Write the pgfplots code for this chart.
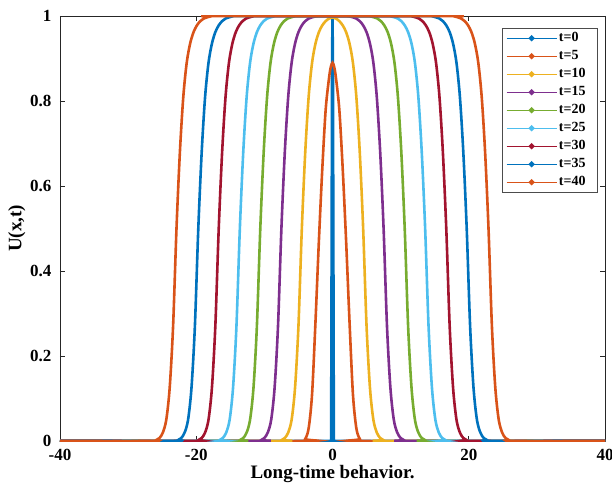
\documentclass[border=0pt]{standalone}
\usepackage{fontspec}
\setmainfont{Liberation Serif}
\usepackage{pgfplots}
\pgfplotsset{compat=1.18}
\definecolor{m1}{rgb}{0,0.447,0.741}
\definecolor{m2}{rgb}{0.850,0.325,0.098}
\definecolor{m3}{rgb}{0.929,0.694,0.125}
\definecolor{m4}{rgb}{0.494,0.184,0.556}
\definecolor{m5}{rgb}{0.466,0.674,0.188}
\definecolor{m6}{rgb}{0.301,0.745,0.933}
\definecolor{m7}{rgb}{0.635,0.078,0.184}
\begin{document}
\begin{tikzpicture}
\begin{axis}[
  name=ax, at={(0,0)}, anchor=south west,
  scale only axis, width=545pt, height=425pt,
  xmin=-40, xmax=40, ymin=0, ymax=1,
  xtick={-40,-20,0,20,40}, ytick={0,0.2,0.4,0.6,0.8,1},
  yticklabels={0,0.2,0.4,0.6,0.8,1},
  /pgf/number format/assume math mode=true,
  tick align=inside, major tick length=5pt,
  tick style={black!85, line width=0.6pt},
  axis line style={black!85, line width=0.8pt},
  tick label style={font=\bfseries\fontsize{17}{17}\selectfont},
  xticklabel style={yshift=-5pt},
  yticklabel style={xshift=-5pt},
  xlabel={Long-time behavior.}, ylabel={U(x,t)},
  label style={font=\bfseries\fontsize{19}{19}\selectfont},
  xlabel style={yshift=3pt},
  ylabel style={yshift=-2pt},
  legend cell align=left,
  legend style={at={(rel axis cs:0.987,0.972)}, anchor=north east,
    font=\bfseries\fontsize{14}{15}\selectfont, draw=black!70, line width=0.6pt,
    inner xsep=4pt, inner ysep=3.5pt, row sep=5pt,
    nodes={inner xsep=2pt, inner ysep=0pt, text height=9.5pt, text depth=3.5pt}},
  legend image code/.code={\draw[#1,line width=0.7pt] (0pt,0pt) -- (50pt,0pt); \fill[#1] (25pt,0pt) circle (1.4pt);},
  every axis plot/.append style={line width=2.6pt},
  clip=true,
]
\addplot[m1] coordinates {(-40,0) (-0.2,0) (-0.06,0.9) (0,1) (0.06,0.9) (0.2,0) (40,0)};
\addlegendentry{t=0\hspace*{6pt}}
\addplot[m2, smooth] coordinates {(-40,0) (-4.5,0) (-4,0.005) (-3.5,0.03) (-3,0.11) (-2.5,0.28) (-2,0.47) (-1.5,0.64) (-1,0.78) (-0.5,0.855) (-0.25,0.88) (0,0.89) (0.25,0.88) (0.5,0.855) (1,0.78) (1.5,0.64) (2,0.47) (2.5,0.28) (3,0.11) (3.5,0.03) (4,0.005) (4.5,0) (40,0)};
\addlegendentry{t=5\hspace*{6pt}}
\addplot[m3, smooth] coordinates {(-40,0) (-8,0) (-7.5,0.002) (-7,0.007) (-6.5,0.02) (-6,0.05) (-5.5,0.125) (-5,0.27) (-4.5,0.5) (-4,0.68) (-3.5,0.81) (-3,0.89) (-2.5,0.935) (-2,0.962) (-1.5,0.978) (-1,0.988) (-0.5,0.994) (0,0.997) (0.5,0.994) (1,0.988) (1.5,0.978) (2,0.962) (2.5,0.935) (3,0.89) (3.5,0.81) (4,0.68) (4.5,0.5) (5,0.27) (5.5,0.125) (6,0.05) (6.5,0.02) (7,0.007) (7.5,0.002) (8,0) (40,0)};
\addlegendentry{t=10\hspace*{6pt}}
\addplot[m4, smooth] coordinates {(-40,0) (-11,0) (-10.5,0.002) (-10,0.007) (-9.5,0.02) (-9,0.05) (-8.5,0.125) (-8,0.27) (-7.5,0.5) (-7,0.68) (-6.5,0.81) (-6,0.89) (-5.5,0.935) (-5,0.962) (-4.5,0.978) (-4,0.988) (-3.5,0.994) (-2.5,0.999) (-1.5,1) (1.5,1) (2.5,0.999) (3.5,0.994) (4,0.988) (4.5,0.978) (5,0.962) (5.5,0.935) (6,0.89) (6.5,0.81) (7,0.68) (7.5,0.5) (8,0.27) (8.5,0.125) (9,0.05) (9.5,0.02) (10,0.007) (10.5,0.002) (11,0) (40,0)};
\addlegendentry{t=15\hspace*{6pt}}
\addplot[m5, smooth] coordinates {(-40,0) (-14.1,0) (-13.6,0.002) (-13.1,0.007) (-12.6,0.02) (-12.1,0.05) (-11.6,0.125) (-11.1,0.27) (-10.6,0.5) (-10.1,0.68) (-9.6,0.81) (-9.1,0.89) (-8.6,0.935) (-8.1,0.962) (-7.6,0.978) (-7.1,0.988) (-6.6,0.994) (-5.6,0.999) (-4.6,1) (4.6,1) (5.6,0.999) (6.6,0.994) (7.1,0.988) (7.6,0.978) (8.1,0.962) (8.6,0.935) (9.1,0.89) (9.6,0.81) (10.1,0.68) (10.6,0.5) (11.1,0.27) (11.6,0.125) (12.1,0.05) (12.6,0.02) (13.1,0.007) (13.6,0.002) (14.1,0) (40,0)};
\addlegendentry{t=20\hspace*{6pt}}
\addplot[m6, smooth] coordinates {(-40,0) (-17.1,0) (-16.6,0.002) (-16.1,0.007) (-15.6,0.02) (-15.1,0.05) (-14.6,0.125) (-14.1,0.27) (-13.6,0.5) (-13.1,0.68) (-12.6,0.81) (-12.1,0.89) (-11.6,0.935) (-11.1,0.962) (-10.6,0.978) (-10.1,0.988) (-9.6,0.994) (-8.6,0.999) (-7.6,1) (7.6,1) (8.6,0.999) (9.6,0.994) (10.1,0.988) (10.6,0.978) (11.1,0.962) (11.6,0.935) (12.1,0.89) (12.6,0.81) (13.1,0.68) (13.6,0.5) (14.1,0.27) (14.6,0.125) (15.1,0.05) (15.6,0.02) (16.1,0.007) (16.6,0.002) (17.1,0) (40,0)};
\addlegendentry{t=25\hspace*{6pt}}
\addplot[m7, smooth] coordinates {(-40,0) (-20.2,0) (-19.7,0.002) (-19.2,0.007) (-18.7,0.02) (-18.2,0.05) (-17.7,0.125) (-17.2,0.27) (-16.7,0.5) (-16.2,0.68) (-15.7,0.81) (-15.2,0.89) (-14.7,0.935) (-14.2,0.962) (-13.7,0.978) (-13.2,0.988) (-12.7,0.994) (-11.7,0.999) (-10.7,1) (10.7,1) (11.7,0.999) (12.7,0.994) (13.2,0.988) (13.7,0.978) (14.2,0.962) (14.7,0.935) (15.2,0.89) (15.7,0.81) (16.2,0.68) (16.7,0.5) (17.2,0.27) (17.7,0.125) (18.2,0.05) (18.7,0.02) (19.2,0.007) (19.7,0.002) (20.2,0) (40,0)};
\addlegendentry{t=30\hspace*{6pt}}
\addplot[m1, smooth] coordinates {(-40,0) (-23.2,0) (-22.7,0.002) (-22.2,0.007) (-21.7,0.02) (-21.2,0.05) (-20.7,0.125) (-20.2,0.27) (-19.7,0.5) (-19.2,0.68) (-18.7,0.81) (-18.2,0.89) (-17.7,0.935) (-17.2,0.962) (-16.7,0.978) (-16.2,0.988) (-15.7,0.994) (-14.7,0.999) (-13.7,1) (13.7,1) (14.7,0.999) (15.7,0.994) (16.2,0.988) (16.7,0.978) (17.2,0.962) (17.7,0.935) (18.2,0.89) (18.7,0.81) (19.2,0.68) (19.7,0.5) (20.2,0.27) (20.7,0.125) (21.2,0.05) (21.7,0.02) (22.2,0.007) (22.7,0.002) (23.2,0) (40,0)};
\addlegendentry{t=35\hspace*{6pt}}
\addplot[m2, smooth] coordinates {(-40,0) (-26.4,0) (-25.9,0.002) (-25.4,0.007) (-24.9,0.02) (-24.4,0.05) (-23.9,0.125) (-23.4,0.27) (-22.9,0.5) (-22.4,0.68) (-21.9,0.81) (-21.4,0.89) (-20.9,0.935) (-20.4,0.962) (-19.9,0.978) (-19.4,0.988) (-18.9,0.994) (-17.9,0.999) (-16.9,1) (16.9,1) (17.9,0.999) (18.9,0.994) (19.4,0.988) (19.9,0.978) (20.4,0.962) (20.9,0.935) (21.4,0.89) (21.9,0.81) (22.4,0.68) (22.9,0.5) (23.4,0.27) (23.9,0.125) (24.4,0.05) (24.9,0.02) (25.4,0.007) (25.9,0.002) (26.4,0) (40,0)};
\addlegendentry{t=40\hspace*{6pt}}
\end{axis}
\pgfresetboundingbox
\path[use as bounding box] (-60pt,-52pt) rectangle (552pt,441pt);
\end{tikzpicture}
\end{document}
